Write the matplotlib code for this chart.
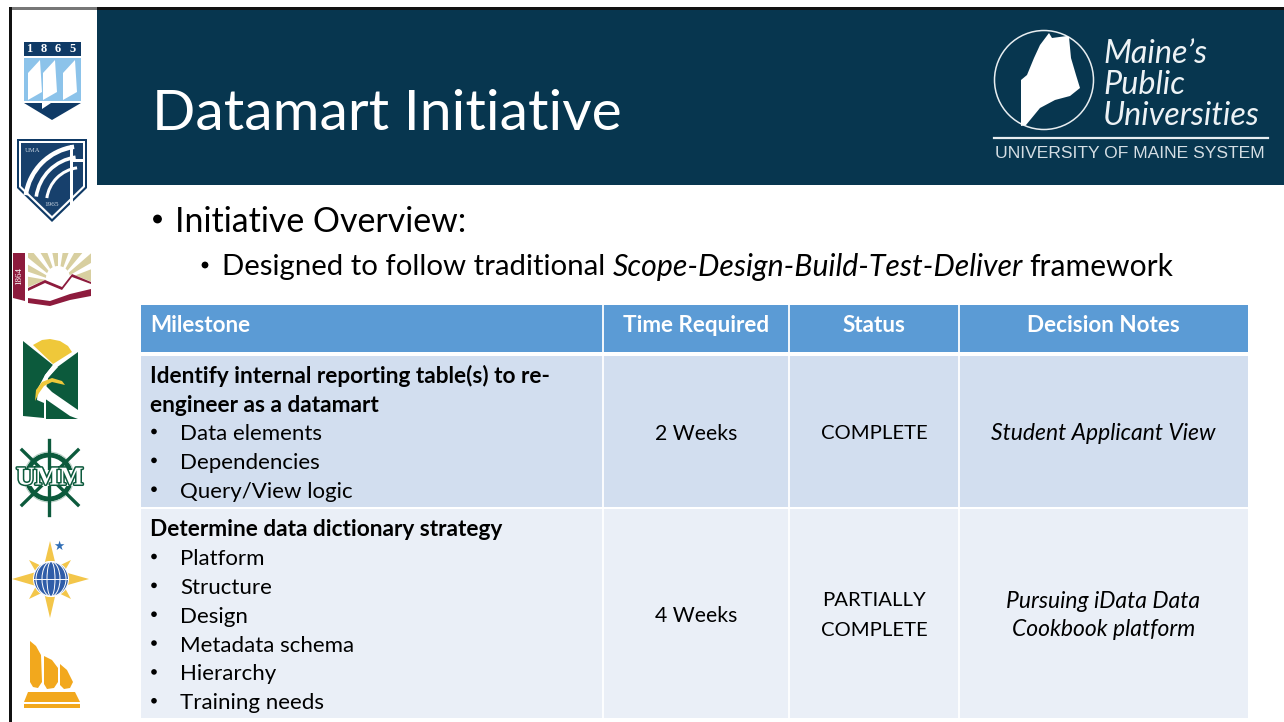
import matplotlib
matplotlib.use("Agg")
import matplotlib.pyplot as plt
import matplotlib.patheffects as pe
from matplotlib.patches import Rectangle, Polygon, Circle, Wedge, Ellipse

FONT = "Lato"
plt.rcParams["font.family"] = [FONT, "DejaVu Sans"]

title = "Datamart Initiative"
overview = "Initiative Overview:"
columns = ["Milestone", "Time Required", "Status", "Decision Notes"]
m1_head = ["Identify internal reporting table(s) to re-", "engineer as a datamart"]
m1_items = ["Data elements", "Dependencies", "Query/View logic"]
m2_head = ["Determine data dictionary strategy"]
m2_items = ["Platform", "Structure", "Design", "Metadata schema", "Hierarchy", "Training needs"]
times = ["2 Weeks", "4 Weeks"]
status = ["COMPLETE", "PARTIALLY\nCOMPLETE"]
notes = ["Student Applicant View", "Pursuing iData Data\nCookbook platform"]

NAVY = "#07364F"
fig = plt.figure(figsize=(12.84, 7.22), dpi=100, facecolor="white")
ax = fig.add_axes([0, 0, 1, 1])
ax.set_xlim(0, 1284)
ax.set_ylim(722, 0)
ax.axis("off")

def rect(x0, y0, x1, y1, c, z=1):
    ax.add_patch(Rectangle((x0, y0), x1 - x0, y1 - y0, fc=c, ec="none", zorder=z))

def poly(pts, c, z=3):
    ax.add_patch(Polygon(pts, closed=True, fc=c, ec="none", zorder=z))

def bullet(x, y, r):
    ax.add_patch(Circle((x, y), r, fc="black", ec="none", zorder=5))

# slide frame and header
rect(9, 7, 97, 9.5, "#777777", 4)
rect(97, 7, 1284, 10, "#111111", 4)
rect(9, 7, 12, 722, "#111111", 4)
rect(97, 9, 1284, 185, NAVY, 2)

ax.text(152, 114, title, fontsize=41, color="white", va="center", ha="left", zorder=5)

# overview bullets
bullet(157.5, 219, 4.4)
ax.text(175, 222, overview, fontsize=24.4, color="black", va="center", zorder=5)
bullet(205, 265, 3.4)
ax.text(222, 267, "Designed to follow traditional", fontsize=21.15, color="black", va="center", zorder=5)
ax.text(613, 267, "Scope-Design-Build-Test-Deliver", fontsize=21.8, style="italic", color="black", va="center", zorder=5)
ax.text(1029, 267, "framework", fontsize=21.6, color="black", va="center", zorder=5)

# table
xs = [141, 603, 789, 959, 1248]
ys = [305, 352, 356, 507, 509, 718]
rect(xs[0], ys[0], xs[4], ys[1], "#5B9BD5", 2)
rect(xs[0], ys[2], xs[4], ys[3], "#D2DEEF", 2)
rect(xs[0], ys[4], xs[4], ys[5], "#EAEFF7", 2)
for x in xs[1:4]:
    ax.plot([x, x], [ys[0], ys[5]], color="white", lw=1.3, zorder=3)

for i, name in enumerate(columns):
    if i == 0:
        ax.text(150, 326, name, fontsize=16.2, color="white", fontweight="bold", va="center", zorder=5)
    else:
        ax.text((xs[i] + xs[i + 1]) / 2, 326, name, fontsize=16.2, color="white", fontweight="bold", va="center", ha="center", zorder=5)

FS = 16
def block(heads, items, y0, step=29):
    y = y0
    for h in heads:
        ax.text(150, y + 2, h, fontsize=16.3, fontweight="bold", color="black", va="center", zorder=5)
        y += step
    for it in items:
        bullet(154, y - 0.5, 2.8)
        ax.text(180, y + 2, it, fontsize=FS, color="black", va="center", zorder=5)
        y += step * 0.995

block(m1_head, m1_items, 374)
block(m2_head, m2_items, 528)

rows_y = [433.5, 615.5]
for i in range(2):
    ax.text((xs[1] + xs[2]) / 2, rows_y[i], times[i], fontsize=15.3, ha="center", va="center", zorder=5)
    ax.text((xs[2] + xs[3]) / 2, rows_y[i], status[i], fontsize=14.6, ha="center", va="center", linespacing=1.88, zorder=5)
    ax.text((xs[3] + xs[4]) / 2, rows_y[i], notes[i], fontsize=16.5, style="italic", ha="center", va="center", linespacing=1.44, zorder=5)

# Maine logo
ax.add_patch(Circle((1044, 80), 49.5, fc="none", ec="#E8EEF1", lw=1.1, zorder=4))
poly([(1021, 126), (1021, 80), (1027, 75), (1034, 58), (1040, 45), (1049, 33), (1052, 38), (1067, 36), (1069, 37),
      (1071, 58), (1076, 75), (1080, 88), (1070, 96), (1055, 100), (1040, 108), (1026, 125)], "white", 5)
for s, y in zip(["Maine’s", "Public", "Universities"], [54, 85, 116]):
    ax.text(1103, y, s, fontsize=23.3, style="italic", color="#EDF2F5", va="center", zorder=5)
ax.plot([994, 1268], [138, 138], color="#E8EEF1", lw=1.6, zorder=5)
ax.text(995, 153, "UNIVERSITY OF MAINE SYSTEM", fontsize=12.6, color="#D5DEE4", va="center", zorder=5, family=["Liberation Sans"])

# crest 1 (UMaine)
rect(24, 42, 81, 56, "#0F3A66", 3)
for x, d in zip([29, 44, 58, 73], "1865"):
    ax.text(x, 49.3, d, fontsize=9, family=["Liberation Serif"], fontweight="bold", color="white", ha="center", va="center", zorder=5)
rect(24, 58, 81, 101, "#8CC3EA", 3)
poly([(24, 103), (81, 103), (52, 120)], "#0F3A66")
for dx in [28, 43, 63]:
    poly([(dx, 73), (dx + 12, 60), (dx + 14, 92), (dx, 100)], "white", 4)
poly([(42, 101), (54, 101), (42, 109)], "white", 4)

# crest 2 (UMA shield)
poly([(17, 139), (87, 139), (87, 188), (52, 222), (17, 188)], "#0F3A66")
poly([(19, 141), (85, 141), (85, 187), (52, 219), (19, 187)], "white")
poly([(21, 143), (83, 143), (83, 186), (52, 216), (21, 186)], "#17406C", 4)
for r, w in [(59, 4.5), (48, 3.6), (37, 3.0)]:
    ax.add_patch(Wedge((82, 203), r, 188, 262, width=w, fc="white", ec="none", zorder=5))
rect(70, 145, 73, 205, "white", 5)
rect(73, 159, 83, 162, "white", 5)
ax.text(25, 150, "UMA", fontsize=4.8, color="#C8D4E0", family=["Liberation Serif"], va="center", zorder=6)
ax.text(52, 204, "1965", fontsize=5.2, color="#C8D4E0", family=["Liberation Serif"], ha="center", va="center", zorder=6)

# crest 3 (Farmington)
poly([(13, 253), (25, 253), (25, 301), (13, 298)], "#8D1B3D")
ax.text(19, 276, "1864", fontsize=6.5, color="white", rotation=90, family=["Liberation Serif"], ha="center", va="center", zorder=5)
rect(28, 253, 91, 288, "#D8CFA0", 3)
for a in range(190, 350, 20):
    w = Wedge((58, 282), 60, a, a + 9, fc="white", ec="none", zorder=4)
    ax.add_patch(w)
    w.set_clip_path(Rectangle((28, 253), 63, 35, transform=ax.transData))
ax.add_patch(Circle((58, 278), 12, fc="white", ec="none", zorder=4))
poly([(26, 288), (45, 280), (62, 288), (72, 274), (92, 282), (92, 296), (26, 296)], "white", 4)
poly([(28, 288), (45, 280), (62, 287), (72, 274), (91, 282), (91, 284), (72, 277), (62, 290), (45, 283), (28, 291)], "#8D1B3D", 5)
poly([(28, 298), (50, 301), (70, 294), (91, 289), (91, 296), (70, 300), (50, 306), (28, 303)], "#8D1B3D", 5)

# crest 4 (Fort Kent)
G = "#0C5A3C"
poly([(33, 345), (42, 340), (50, 339), (60, 341), (68, 346), (72, 352), (53, 364)], "#EFC83A")
poly([(23, 341), (53, 365), (45, 375), (38, 388), (37, 400), (44, 403), (44, 418), (23, 416)], G)
poly([(78, 352), (56, 368), (48, 378), (46, 388), (46, 419), (78, 419)], G)
poly([(53, 365), (58, 367), (48, 378), (46, 386), (52, 392), (78, 410), (78, 419), (70, 416), (44, 398), (40, 388), (45, 375)], "white", 4)
poly([(35, 401), (36, 390), (42, 382), (52, 378), (62, 381), (65, 385), (52, 382), (44, 386), (39, 393)], "#EFC83A", 5)

# crest 5 (Machias wheel)
ax.add_patch(Circle((49, 477), 22, fc="none", ec=G, lw=3.6, zorder=3))
ax.add_patch(Circle((49, 477), 25, fc="none", ec="#B7CFC4", lw=0.8, zorder=3))
for p, q in [((49, 440), (49, 515)), ((22, 450), (78, 505)), ((78, 450), (22, 505))]:
    ax.plot([p[0], q[0]], [p[1], q[1]], color=G, lw=2.4, zorder=3)
rect(15, 470, 85, 486, "white", 4)
ax.text(50, 478, "UMM", fontsize=18.5, color="white", family=["Liberation Serif"], fontweight="bold", ha="center", va="center", zorder=5,
        path_effects=[pe.withStroke(linewidth=2.2, foreground=G)])

# crest 6 (Presque Isle)
Y6 = "#F3C64A"
poly([(50, 541), (57, 570), (89, 579), (57, 588), (50, 618), (43, 588), (12, 579), (43, 570)], Y6)
poly([(29, 560), (50, 570), (71, 560), (60, 579), (71, 599), (50, 589), (29, 599), (40, 579)], Y6)
ax.add_patch(Circle((51, 579), 17.5, fc="#2F5DA8", ec="white", lw=0.8, zorder=4))
for w in [8, 18, 30]:
    ax.add_patch(Ellipse((51, 579), w, 35, fc="none", ec="white", lw=0.7, zorder=5))
ax.plot([34, 68], [579, 579], color="white", lw=0.7, zorder=5)
ax.text(59, 546, "★", fontsize=9, color="#2F6DB5", family=["DejaVu Sans"], ha="center", va="center", zorder=5)

# crest 7 (Southern Maine)
GOLD = "#F2A81D"
poly([(30, 641), (36, 646), (41, 655), (42, 682), (38, 688), (33, 687), (30, 682)], GOLD)
poly([(44, 656), (52, 660), (58, 668), (58, 682), (54, 688), (47, 689), (44, 684)], GOLD)
poly([(60, 664), (67, 670), (73, 682), (70, 688), (64, 689), (60, 685)], GOLD)
poly([(28, 692), (75, 692), (80, 702), (24, 702)], GOLD)
rect(24, 704, 80, 708, GOLD, 3)

fig.savefig("out.png", dpi=100, facecolor="white")
